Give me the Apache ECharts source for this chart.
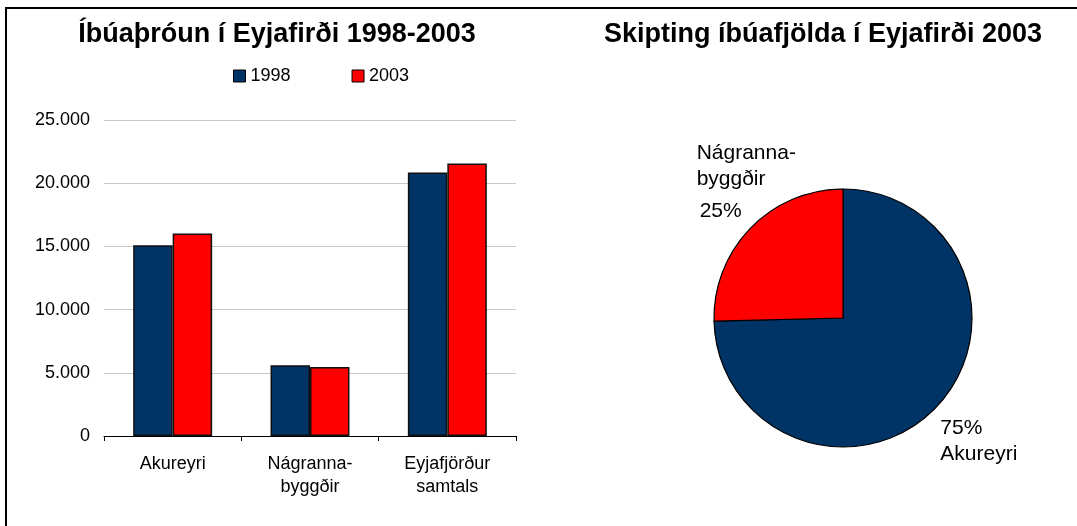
<!DOCTYPE html>
<html>
<head>
<meta charset="utf-8">
<script src="https://cdn.jsdelivr.net/npm/echarts@6/dist/echarts.min.js"></script>
<style>
  body { margin: 0; background: #fff; }
  #wrap { position: relative; width: 1077px; height: 526px; overflow: hidden; }
  #chart { width: 1077px; height: 526px; }
  #frame {
    position: absolute; left: 5px; top: 7px; right: -10px; bottom: -10px;
    border-top: 2px solid #000; border-left: 2px solid #000;
    pointer-events: none;
  }
</style>
</head>
<body>
<div id="wrap">
  <div id="chart"></div>
  <div id="frame"></div>
</div>
<script>
// gögn
const categories = ['Akureyri', 'Nágranna-\nbyggðir', 'Eyjafjörður\nsamtals'];
const years = ['1998', '2003'];
const values1998 = [15100, 5600, 20850];
const values2003 = [16030, 5460, 21550];
const pieNames = ['Akureyri', 'Nágranna-\nbyggðir'];
const pieValues = [16040, 5460];
const yTicks = [0, 5000, 10000, 15000, 20000, 25000];

const navy = '#003366';
const red = '#ff0000';
const font = 'Liberation Sans, Arial, sans-serif';

function fmt(v) {
  return String(v).replace(/\B(?=(\d{3})+(?!\d))/g, '.');
}

let myChart = echarts.init(document.getElementById('chart'));
let option = {
  animation: false,
  textStyle: { fontFamily: font, color: '#000' },
  title: [
    {
      text: 'Íbúaþróun í Eyjafirði 1998-2003',
      left: 272, top: 16, textAlign: 'center',
      textStyle: { fontSize: 27, fontWeight: 'bold', color: '#000', fontFamily: font }
    },
    {
      text: 'Skipting íbúafjölda í Eyjafirði 2003',
      left: 818, top: 16, textAlign: 'center',
      textStyle: { fontSize: 27, fontWeight: 'bold', color: '#000', fontFamily: font }
    }
  ],
  legend: {
    data: years,
    left: 228, top: 62,
    itemWidth: 12, itemHeight: 12, itemGap: 61,
    icon: 'rect',
    textStyle: { fontSize: 18, color: '#000', fontFamily: font },
    itemStyle: { borderColor: '#000', borderWidth: 1 }
  },
  grid: { left: 104, top: 120, width: 412, height: 316, containLabel: false },
  xAxis: {
    type: 'category',
    data: categories,
    axisLine: { lineStyle: { color: '#000', width: 1 } },
    axisTick: { show: true, length: 5, lineStyle: { color: '#000' } },
    axisLabel: { fontSize: 18, color: '#000', lineHeight: 23, margin: 17, fontFamily: font }
  },
  yAxis: {
    type: 'value',
    min: yTicks[0], max: yTicks[yTicks.length - 1], interval: 5000,
    axisLine: { show: false },
    axisTick: { show: false },
    splitLine: { lineStyle: { color: '#c8c8c8', width: 1 } },
    axisLabel: { fontSize: 18, color: '#000', margin: 14, fontFamily: font, formatter: fmt }
  },
  series: [
    {
      name: years[0], type: 'bar', data: values1998,
      barGap: '0%', barCategoryGap: '42.5%',
      itemStyle: { color: navy, borderColor: '#111', borderWidth: 1.5 }
    },
    {
      name: years[1], type: 'bar', data: values2003,
      itemStyle: { color: red, borderColor: '#111', borderWidth: 1.5 }
    },
    {
      type: 'pie',
      center: [843, 318],
      radius: 129,
      startAngle: 90,
      clockwise: true,
      data: pieNames.map((n, i) => ({ name: n, value: pieValues[i] })),
      color: [navy, red],
      itemStyle: { borderColor: '#000', borderWidth: 1.2 },
      label: {
        show: true, position: 'outside',
        fontSize: 21, color: '#000', lineHeight: 26, fontFamily: font,
        formatter: function (p) {
          const pct = Math.round(p.percent) + '%';
          return p.dataIndex === 0 ? pct + '\n' + p.name : p.name + '\n{pc|' + pct + '}';
        },
        rich: { pc: { fontSize: 21, lineHeight: 26, padding: [13, 0, 0, 3], fontFamily: font, color: '#000' } }
      },
      labelLine: { show: false, length: 0, length2: 0 },
      labelLayout: function (p) {
        if (p.dataIndex === 0) return { dx: 0, dy: 33, align: 'left' };
        return { dx: -49, dy: -49, align: 'left' };
      },
      emphasis: { disabled: true }
    }
  ]
};
myChart.setOption(option);
window.addEventListener('resize', function () {
  myChart.resize();
});
</script>
</body>
</html>
